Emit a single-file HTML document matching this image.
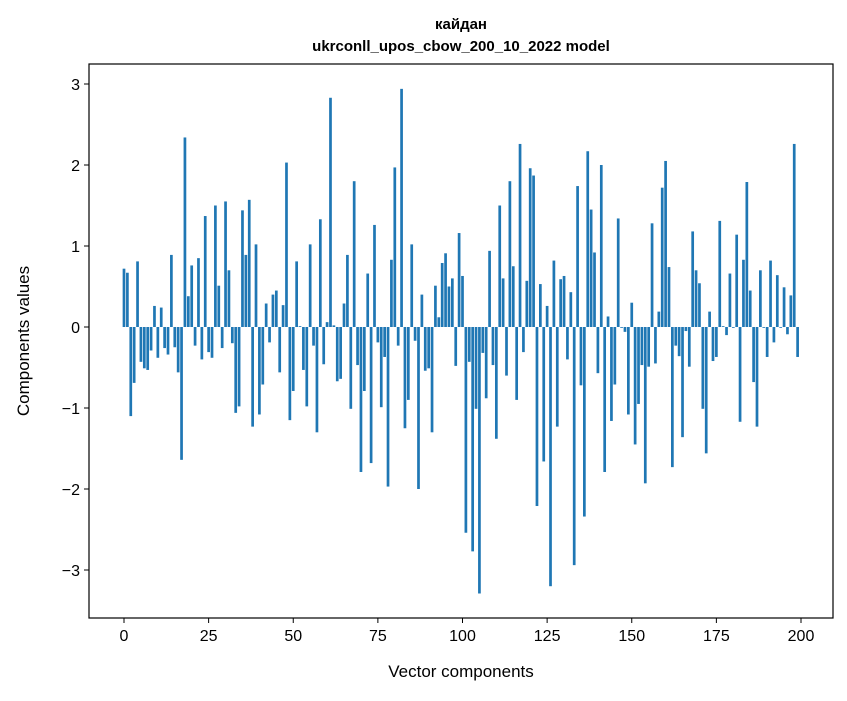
<!DOCTYPE html>
<html><head><meta charset="utf-8"><style>
body{margin:0;background:#fff;font-family:"Liberation Sans","DejaVu Sans",sans-serif}
</style></head><body>
<svg id="chart" width="847" height="696" xmlns="http://www.w3.org/2000/svg" font-family="Liberation Sans, DejaVu Sans, sans-serif">
<rect width="847" height="696" fill="#fff"/>
<text x="461" y="29" text-anchor="middle" font-size="15" font-weight="bold">кайдан</text>
<text x="461" y="51" text-anchor="middle" font-size="15" font-weight="bold">ukrconll_upos_cbow_200_10_2022 model</text>
<g id="bars"></g>
<g id="axes"></g>
<text x="461" y="677" text-anchor="middle" font-size="17">Vector components</text>
<text x="29" y="341" text-anchor="middle" font-size="17" transform="rotate(-90 29 341)">Components values</text>
</svg>
<script>
const values = [0.72,0.67,-1.10,-0.69,0.81,-0.43,-0.51,-0.53,-0.29,0.26,-0.38,0.24,-0.26,-0.34,0.89,-0.25,-0.56,-1.64,2.34,0.38,
0.76,-0.23,0.85,-0.40,1.37,-0.31,-0.38,1.50,0.51,-0.26,1.55,0.70,-0.20,-1.06,-0.98,1.44,0.89,1.57,-1.23,1.02,
-1.08,-0.71,0.29,-0.19,0.40,0.45,-0.56,0.27,2.03,-1.15,-0.79,0.81,0.01,-0.53,-0.98,1.02,-0.23,-1.30,1.33,-0.46,
0.06,2.83,0.02,-0.67,-0.64,0.29,0.89,-1.01,1.80,-0.47,-1.79,-0.79,0.66,-1.68,1.26,-0.19,-0.99,-0.37,-1.97,0.83,
1.97,-0.23,2.94,-1.25,-0.90,1.02,-0.17,-2.00,0.40,-0.54,-0.51,-1.30,0.51,0.12,0.79,0.91,0.50,0.60,-0.48,1.16,
0.63,-2.54,-0.43,-2.77,-1.01,-3.29,-0.32,-0.88,0.94,-0.47,-1.38,1.50,0.60,-0.60,1.80,0.75,-0.90,2.26,-0.31,0.57,
1.96,1.87,-2.21,0.53,-1.66,0.26,-3.20,0.82,-1.23,0.59,0.63,-0.40,0.43,-2.94,1.74,-0.72,-2.34,2.17,1.45,0.92,
-0.57,2.00,-1.79,0.13,-1.16,-0.71,1.34,-0.01,-0.06,-1.08,0.30,-1.45,-0.95,-0.47,-1.93,-0.49,1.28,-0.45,0.19,1.72,
2.05,0.74,-1.73,-0.23,-0.36,-1.36,-0.05,-0.49,1.18,0.70,0.54,-1.01,-1.56,0.19,-0.42,-0.37,1.31,0.01,-0.10,0.66,
-0.01,1.14,-1.17,0.83,1.79,0.45,-0.68,-1.23,0.70,-0.01,-0.37,0.82,-0.19,0.64,-0.01,0.49,-0.09,0.39,2.26,-0.37];
const xTicks = [0,25,50,75,100,125,150,175,200];
const yTicks = [-3,-2,-1,0,1,2,3];
const yTickLabels = ["\u22123","\u22122","\u22121","0","1","2","3"];

const NS="http://www.w3.org/2000/svg";
const L=89,R=833,T=64,B=618;
function xs(v){return 124+v*(801-124)/200;}
function ys(v){return 327-v*81;}
const bars=document.getElementById('bars');
values.forEach((v,i)=>{
  const r=document.createElementNS(NS,'rect');
  const y0=ys(Math.max(v,0)), y1=ys(Math.min(v,0));
  r.setAttribute('x',xs(i-0.4));r.setAttribute('width',xs(0.8)-xs(0));
  r.setAttribute('y',y0);r.setAttribute('height',Math.max(y1-y0,0.3));
  r.setAttribute('fill','#1f77b4');
  
  
  bars.appendChild(r);
});
const ax=document.getElementById('axes');
const frame=document.createElementNS(NS,'rect');
frame.setAttribute('x',L);frame.setAttribute('y',T);frame.setAttribute('width',R-L);frame.setAttribute('height',B-T);
frame.setAttribute('fill','none');frame.setAttribute('stroke','#000');frame.setAttribute('stroke-width','1.2');


ax.appendChild(frame);
xTicks.forEach(t=>{
  const x=xs(t);
  const l=document.createElementNS(NS,'line');
  l.setAttribute('x1',x);l.setAttribute('x2',x);l.setAttribute('y1',B);l.setAttribute('y2',B+5);l.setAttribute('stroke','#000');
  
  
  ax.appendChild(l);
  const tx=document.createElementNS(NS,'text');
  tx.setAttribute('x',x);tx.setAttribute('y',B+23);tx.setAttribute('text-anchor','middle');tx.setAttribute('font-size','16');
  tx.textContent=t;
  
  
  ax.appendChild(tx);
});
yTicks.forEach((t,i)=>{
  const y=ys(t);
  const l=document.createElementNS(NS,'line');
  l.setAttribute('x1',L-5);l.setAttribute('x2',L);l.setAttribute('y1',y);l.setAttribute('y2',y);l.setAttribute('stroke','#000');
  
  
  ax.appendChild(l);
  const tx=document.createElementNS(NS,'text');
  tx.setAttribute('x',L-9);tx.setAttribute('y',y+6);tx.setAttribute('text-anchor','end');tx.setAttribute('font-size','16');
  tx.textContent=yTickLabels[i];
  
  
  ax.appendChild(tx);
});
</script>
</body></html>
